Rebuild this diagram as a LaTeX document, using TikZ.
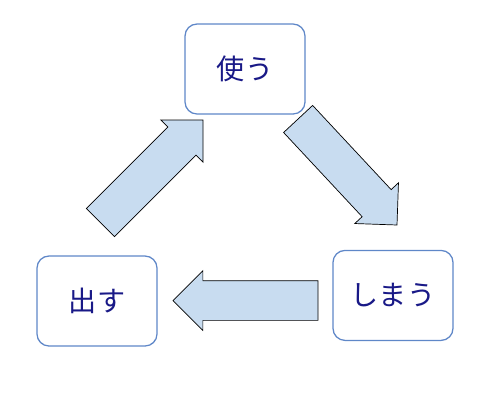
\documentclass[tikz,border=0pt]{standalone}
\usepackage{fontspec}
\newfontfamily\jpfont{Noto Sans CJK JP}
\usepackage{tikz}
\usetikzlibrary{shapes.arrows}
\definecolor{boxline}{RGB}{95,135,200}
\definecolor{boxtext}{RGB}{25,25,135}
\definecolor{arrowfill}{RGB}{200,220,240}
\tikzstyle{stepbox} = [rectangle, rounded corners=0.3cm, minimum width=3cm, minimum height=2.25cm, text centered, draw=boxline, line width=0.9pt, fill=white, text=boxtext, font=\jpfont\fontsize{20}{24}\selectfont]
\tikzstyle{blockarrow} = [single arrow, draw=black, line width=0.5pt, fill=arrowfill, inner xsep=0pt, inner ysep=0.4875cm, outer sep=0pt, single arrow head extend=0.25cm, minimum height=3.625cm, anchor=tip]

\begin{document}
\begin{tikzpicture}[node distance=5.8cm]
        \useasboundingbox (0,0) rectangle (12.45,-10.3);
        % Boxes
        \node (use) [stepbox] at (6.125,-1.725) {使う};
        \node (put) [stepbox, below of=use, xshift=-3.7cm] {出す};
        \node (keep) [stepbox, below of=use, xshift=3.7cm, yshift=0.14cm] {しまう};

        % Arrows
        \node (usetokeep) [blockarrow, rotate=-47] at (9.925,-5.625) {};
        \node (keeptoput) [blockarrow, rotate=180] at (4.325,-7.5125) {};
        \node (puttouse) [blockarrow, rotate=45] at (5.075,-3.0) {};
    \end{tikzpicture}
\end{document}
